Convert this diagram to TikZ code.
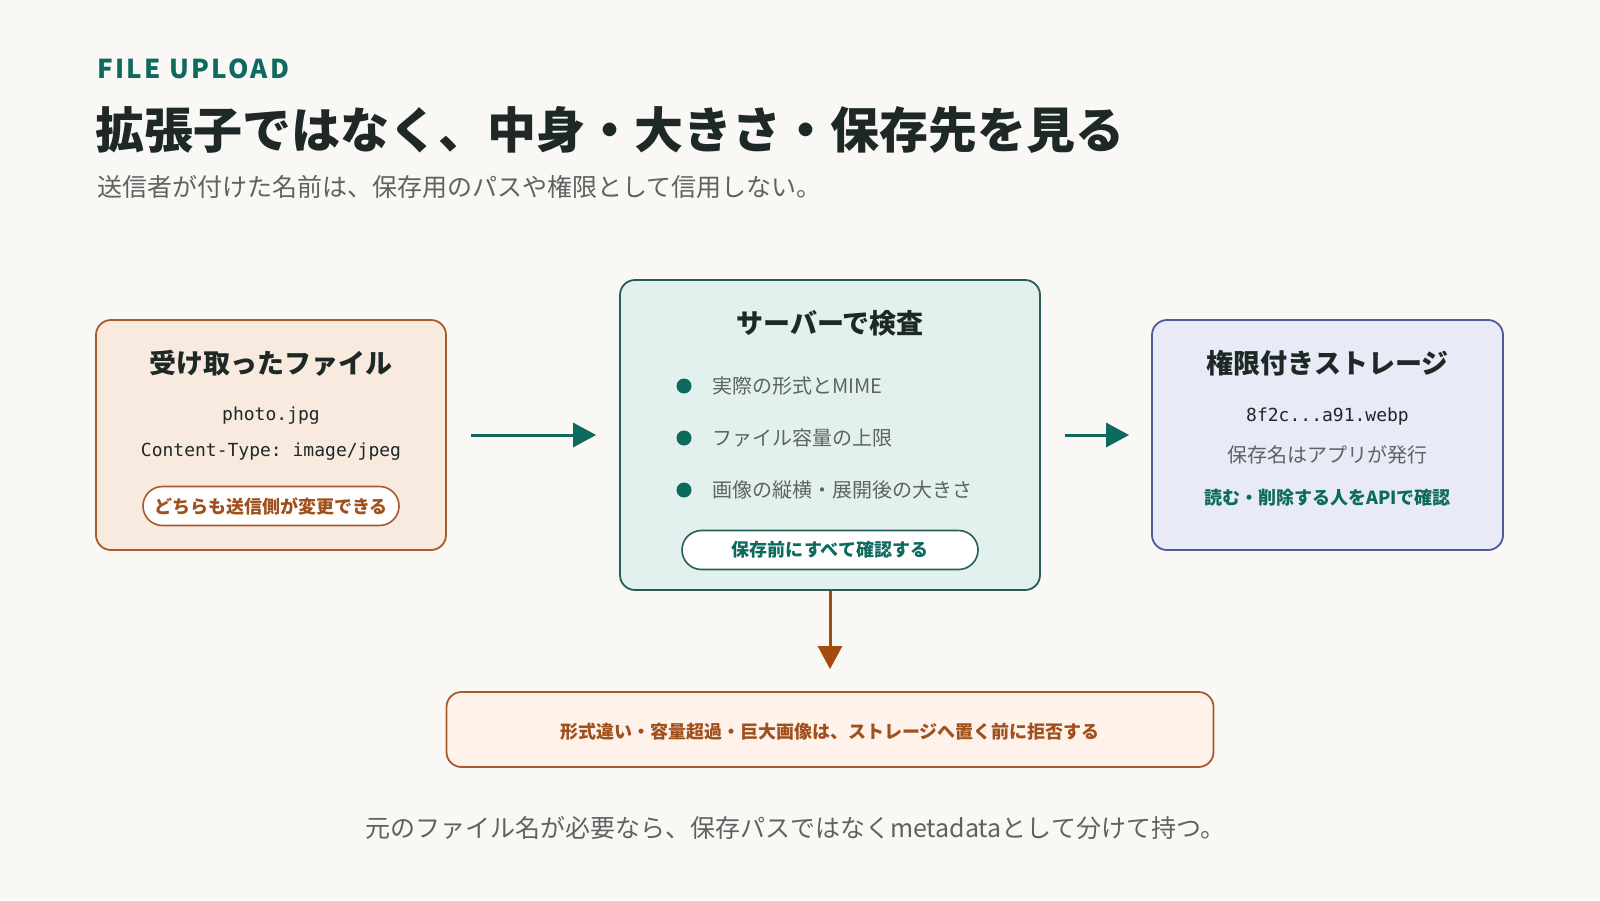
\documentclass[tikz,border=0pt]{standalone}
\usepackage{fontspec}
\setmainfont{Noto Sans CJK JP}
\setmonofont{DejaVu Sans Mono}
\usepackage{tikz}
\usetikzlibrary{
  arrows.meta,
  shapes.misc,
  chains,
  positioning,
  scopes
}
\definecolor{bgpaper}{HTML}{F9F8F4}
\definecolor{upteal}{HTML}{0E6A5F}
\definecolor{inkdark}{HTML}{1E2826}
\definecolor{inkgray}{HTML}{5E6361}
\definecolor{rustline}{HTML}{A85A2E}
\definecolor{rusttext}{HTML}{A0501C}
\definecolor{rustarrow}{HTML}{A54B0F}
\definecolor{sandfill}{HTML}{F8EADE}
\definecolor{mintfill}{HTML}{E3F1EE}
\definecolor{mintline}{HTML}{245E57}
\definecolor{lavfill}{HTML}{E8EAF7}
\definecolor{lavline}{HTML}{4E5A9A}
\definecolor{peachfill}{HTML}{FFF2EA}

\begin{document}
\begin{tikzpicture}[
      x=1pt, y=-1pt,
      card/.style={
         rectangle,
         rounded corners=15pt,
         line width=1.8pt,
         inner sep=0pt
      },
      pill/.style={
         rounded rectangle,
         line width=1.6pt,
         fill=white,
         inner sep=0pt,
         minimum height=39pt,
         font=\bfseries\fontsize{18}{21}\selectfont
      },
      heading/.style={inner sep=0pt, text=inkdark, font=\bfseries\fontsize{27}{31}\selectfont},
      code/.style={inner sep=0pt, text=inkdark, font=\ttfamily\fontsize{18}{22}\selectfont},
      plain/.style={inner sep=0pt, text=inkgray, font=\fontsize{20}{24}\selectfont},
      dot/.style={circle, fill=upteal, minimum size=15pt, inner sep=0pt},
      point/.style={coordinate},
      tip/.style={-{Triangle[length=23pt,width=24pt]}, line width=3pt},
    ]
    \fill[bgpaper] (0,0) rectangle (1600,900);
    \useasboundingbox (0,0) rectangle (1600,900);

    \node (n01) [anchor=west, inner sep=0pt, text=upteal, font=\bfseries\fontsize{26}{30}\selectfont\addfontfeature{LetterSpace=9}] at (97,69) {FILE UPLOAD};
    \node (n02) [anchor=west, inner sep=0pt, text=inkdark, font=\bfseries\fontsize{49}{56}\selectfont] at (95,130) {拡張子ではなく、中身・大きさ・保存先を見る};
    \node (n03) [anchor=west, inner sep=0pt, text=inkgray, font=\fontsize{25}{30}\selectfont] at (97,187) {送信者が付けた名前は、保存用のパスや権限として信用しない。};

    \node (n11) [card, fill=sandfill, draw=rustline, minimum width=350pt, minimum height=230pt] at (271,435) {};
    \node (n12) [card, fill=mintfill, draw=mintline, minimum width=420pt, minimum height=310pt] at (830,435) {};
    \node (n13) [card, fill=lavfill, draw=lavline, minimum width=351pt, minimum height=230pt] at (1327.5,435) {};
    \node (n14) [card, fill=peachfill, draw=rustline, minimum width=767pt, minimum height=75pt] at (830,729.5) {};

    \node (n21) [heading] at (271,363) {受け取ったファイル};
    \node (n22) [code] at (271,416) {photo.jpg};
    \node (n23) [code] at (271,452) {Content-Type: image/jpeg};
    \node (n24) [pill, draw=rustline, text=rusttext, minimum width=256pt] at (271,506) {どちらも送信側が変更できる};

    \node (n31) [heading] at (830,323) {サーバーで検査};
    \node (n32) [dot] at (684,386) {};
    \node (n33) [dot] at (684,438) {};
    \node (n34) [dot] at (684,490) {};
    \node (n35) [plain, anchor=west] at (712,386) {実際の形式とMIME};
    \node (n36) [plain, anchor=west] at (712,438) {ファイル容量の上限};
    \node (n37) [plain, anchor=west] at (712,490) {画像の縦横・展開後の大きさ};
    \node (n38) [pill, draw=mintline, text=upteal, minimum width=296pt] at (830,550) {保存前にすべて確認する};

    \node (n41) [heading] at (1327.5,363) {権限付きストレージ};
    \node (n42) [code] at (1327.5,417) {8f2c...a91.webp};
    \node (n43) [plain] at (1327.5,455) {保存名はアプリが発行};
    \node (n44) [inner sep=0pt, text=upteal, font=\bfseries\fontsize{18}{22}\selectfont] at (1327.5,498) {読む・削除する人をAPIで確認};

    \node (n51) [inner sep=0pt, text=rusttext, font=\bfseries\fontsize{18}{21}\selectfont] at (830,732) {形式違い・容量超過・巨大画像は、ストレージへ置く前に拒否する};
    \node (n61) [inner sep=0pt, text=inkgray, font=\fontsize{25}{30}\selectfont] at (795,828) {元のファイル名が必要なら、保存パスではなくmetadataとして分けて持つ。};

  { [start chain]
       \chainin (n11);
       \chainin (n12)    [join=by {tip, draw=upteal, shorten <=24pt, shorten >=23pt}];
  }
  { [start chain]
       \chainin (n12);
       \chainin (n13)    [join=by {tip, draw=upteal, shorten <=24pt, shorten >=22pt}];
  }
  { [start chain]
       \chainin (n12);
       \chainin (n14)    [join=by {tip, draw=rustarrow, shorten >=22pt}];
  }
\end{tikzpicture}
\end{document}
